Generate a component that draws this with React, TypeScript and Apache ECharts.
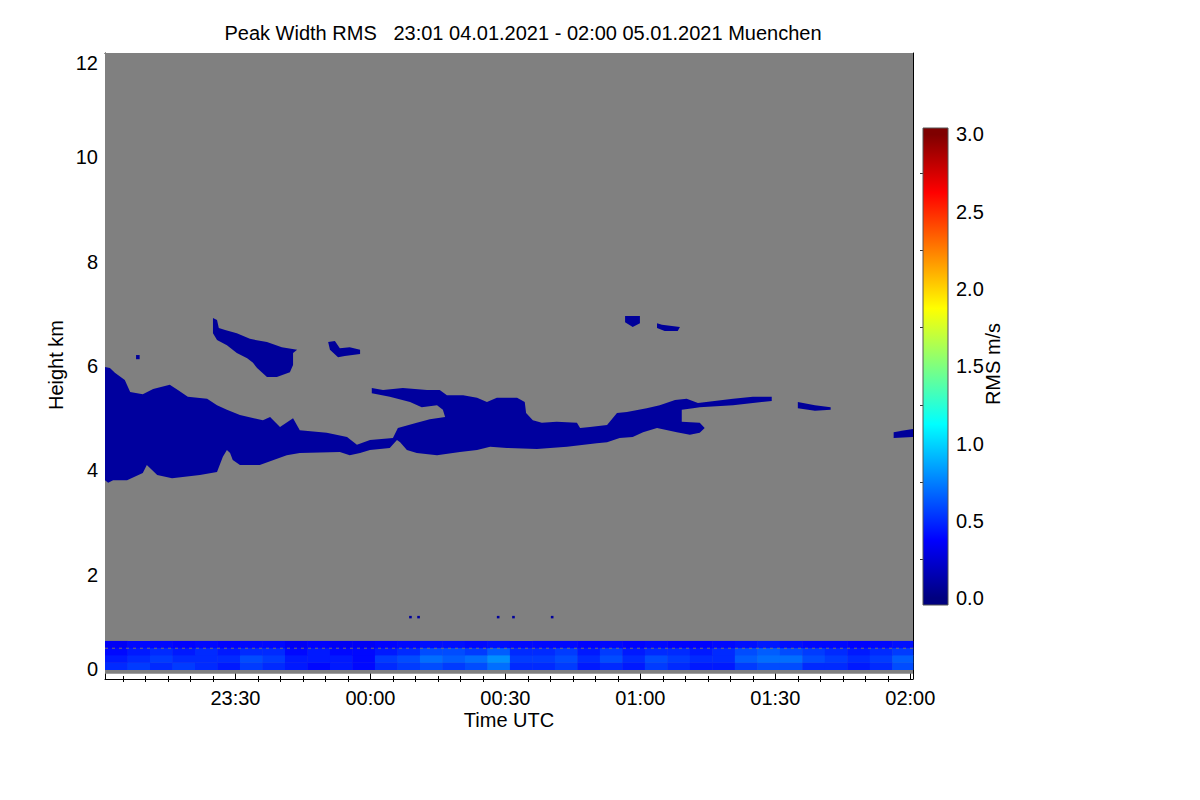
import React, { useEffect, useRef } from "react";
import * as echarts from "echarts";

// ---------- text ----------
const TITLE = "Peak Width RMS   23:01 04.01.2021 - 02:00 05.01.2021 Muenchen";
const X_NAME = "Time UTC";
const Y_NAME = "Height km";
const CB_NAME = "RMS m/s";
const FONT = "'Liberation Sans', Arial, Helvetica, sans-serif";

// ---------- axes (time in minutes after 23:00 UTC, height in km) ----------
const X_MIN = 1; // 23:01
const X_MAX = 180.6; // just past 02:00
const X_MAJOR = [30, 60, 90, 120, 150, 180];
const X_MINOR = [5, 10, 15, 20, 25, 35, 40, 45, 50, 55, 65, 70, 75, 80, 85, 95, 100, 105, 110, 115, 125, 130, 135, 140, 145, 155, 160, 165, 170, 175];
const Y_MIN = 0;
const Y_MAX = 12;
const Y_STEP = 2;

// ---------- colour bar ----------
const CB_MIN = 0;
const CB_MAX = 3;
const CB_EXTENT = [-0.045, 3.042];
const CB_LABELS = [0, 0.5, 1, 1.5, 2, 2.5, 3];
const CB_TICKS = [0.25, 0.75, 1.25, 1.75, 2.25, 2.75];
const JET = ["#00007f", "#0000ff", "#007fff", "#00ffff", "#7fff7f", "#ffff00", "#ff7f00", "#ff0000", "#7f0000"];

// ---------- no-data (grey) region ----------
const NO_DATA = [X_MIN, X_MAX, 0.1, 12];

// ---------- boundary layer (values in m/s) ----------
const BL_T = [1, 6, 11, 16, 21, 26, 31, 36, 41, 46, 51, 56, 61, 66, 71, 76, 81, 86, 91, 96, 101, 106, 111, 116, 121, 126, 131, 136, 141, 146, 151, 156, 161, 166, 171, 176, 180.6];
const BL_H = [0.18, 0.32, 0.46, 0.6, 0.73];
const BL_ROW0 = [0.5, 0.55, 0.5, 0.55, 0.5, 0.45, 0.55, 0.5, 0.45, 0.4, 0.45, 0.4, 0.5, 0.55, 0.6, 0.55, 0.6, 0.7, 0.5, 0.5, 0.55, 0.45, 0.5, 0.45, 0.55, 0.5, 0.45, 0.45, 0.55, 0.6, 0.6, 0.5, 0.5, 0.45, 0.5, 0.6];
const BL_ROW1 = [0.45, 0.5, 0.55, 0.5, 0.5, 0.5, 0.6, 0.55, 0.45, 0.45, 0.45, 0.4, 0.55, 0.6, 0.7, 0.65, 0.7, 0.8, 0.55, 0.55, 0.6, 0.5, 0.6, 0.5, 0.6, 0.55, 0.5, 0.5, 0.65, 0.7, 0.7, 0.6, 0.55, 0.5, 0.55, 0.65];
const BL_ROW2 = [0.4, 0.45, 0.5, 0.45, 0.5, 0.45, 0.5, 0.5, 0.4, 0.45, 0.4, 0.4, 0.45, 0.5, 0.6, 0.6, 0.55, 0.65, 0.5, 0.5, 0.55, 0.45, 0.55, 0.45, 0.5, 0.5, 0.45, 0.5, 0.6, 0.65, 0.6, 0.55, 0.5, 0.45, 0.5, 0.55];
const BL_ROW3 = [0.35, 0.4, 0.4, 0.38, 0.4, 0.38, 0.4, 0.4, 0.35, 0.38, 0.35, 0.35, 0.38, 0.4, 0.42, 0.42, 0.4, 0.42, 0.4, 0.4, 0.4, 0.38, 0.4, 0.38, 0.4, 0.38, 0.38, 0.4, 0.42, 0.45, 0.42, 0.4, 0.4, 0.38, 0.4, 0.42];
const BL_ROWS = [BL_ROW0, BL_ROW1, BL_ROW2, BL_ROW3];
const BL_LINE_H = 0.59;

// isolated echoes near 1.2 km: [value, t0, t1, h0, h1]
const SPECKLES = [
  [0.08, 68.6, 69.1, 1.17, 1.21],
  [0.08, 70.4, 70.9, 1.17, 1.21],
  [0.08, 88.1, 88.6, 1.17, 1.21],
  [0.08, 91.5, 92.0, 1.17, 1.21],
  [0.08, 100.1, 100.6, 1.17, 1.21],
];

// ---------- cloud echoes: outlines as [minutes after 23:00, km] ----------
const CLOUD_MAIN = [
  [1.0, 5.98], [2.1, 5.96], [3.2, 5.87], [5.4, 5.73], [6.6, 5.5], [9.4, 5.46], [11.7, 5.56], [15.4, 5.64],
  [17.2, 5.54], [19.4, 5.41], [23.7, 5.37], [25.9, 5.25], [28.1, 5.16], [31.0, 5.06], [36.1, 4.96], [37.7, 5.02],
  [39.9, 4.83], [42.8, 5.0], [44.3, 4.77], [50.3, 4.72], [54.8, 4.64], [57.0, 4.49], [59.9, 4.58], [65.0, 4.62],
  [66.1, 4.81], [70.3, 4.91], [73.2, 4.98], [76.6, 5.02], [76.1, 5.16], [74.8, 5.25], [71.4, 5.21], [68.8, 5.31],
  [64.3, 5.41], [60.3, 5.48], [60.3, 5.58], [62.8, 5.54], [67.2, 5.58], [72.6, 5.54], [75.4, 5.54], [77.0, 5.44],
  [80.6, 5.44], [83.7, 5.39], [85.9, 5.31], [88.1, 5.39], [92.6, 5.39], [94.3, 5.31], [94.6, 5.1], [96.1, 4.96],
  [98.1, 4.91], [101.4, 4.93], [105.9, 4.91], [106.6, 4.81], [108.8, 4.83], [112.6, 4.87], [114.8, 5.1], [117.0, 5.12],
  [121.4, 5.19], [124.3, 5.25], [127.7, 5.35], [130.3, 5.37], [132.8, 5.29], [140.6, 5.37], [145.0, 5.41], [149.2, 5.41],
  [149.2, 5.33], [140.6, 5.25], [133.2, 5.21], [131.7, 5.19], [129.2, 5.16], [129.2, 4.93], [133.2, 4.91], [134.3, 4.81],
  [133.2, 4.72], [131.0, 4.68], [128.1, 4.73], [123.7, 4.81], [120.6, 4.73], [118.3, 4.64], [115.4, 4.62], [112.6, 4.54],
  [110.3, 4.52], [103.7, 4.45], [97.0, 4.41], [90.3, 4.43], [86.6, 4.45], [83.7, 4.39], [79.9, 4.35], [74.8, 4.29],
  [70.3, 4.33], [68.1, 4.39], [66.6, 4.54], [65.9, 4.58], [64.3, 4.43], [59.9, 4.39], [57.7, 4.33], [55.4, 4.29],
  [53.2, 4.35], [44.3, 4.33], [41.4, 4.29], [35.4, 4.1], [31.0, 4.1], [29.4, 4.2], [28.8, 4.33], [28.1, 4.39],
  [27.2, 4.26], [25.9, 3.97], [22.1, 3.91], [15.9, 3.85], [12.6, 3.91], [10.3, 4.1], [9.4, 3.95], [5.9, 3.81],
  [2.8, 3.81], [1.7, 3.76], [1.0, 3.81],
];
const CLOUD_UPPER = [
  [25.0, 6.92], [25.9, 6.88], [26.3, 6.73], [27.7, 6.69], [30.3, 6.63], [33.2, 6.52], [37.0, 6.46], [40.3, 6.36],
  [43.7, 6.31], [42.8, 6.25], [42.8, 6.02], [42.1, 5.88], [39.2, 5.79], [37.0, 5.79], [34.8, 5.96], [33.9, 6.06],
  [32.6, 6.15], [30.3, 6.25], [28.1, 6.4], [25.9, 6.5], [25.0, 6.63], [25.0, 6.82],
];
const CLOUD_2352 = [[50.6, 6.46], [52.1, 6.48], [53.2, 6.34], [55.4, 6.36], [57.7, 6.31], [57.7, 6.23], [54.3, 6.19], [52.8, 6.17], [51.0, 6.31]];
const CLOUD_2308 = [[7.9, 6.21], [8.7, 6.21], [8.7, 6.13], [7.9, 6.13]];
const CLOUD_0100 = [[116.6, 6.96], [119.9, 6.96], [119.9, 6.82], [118.3, 6.75], [116.6, 6.84]];
const CLOUD_0106 = [[123.7, 6.82], [124.8, 6.79], [128.8, 6.75], [128.3, 6.67], [125.4, 6.67], [123.7, 6.73]];
const CLOUD_0143 = [[155.0, 5.31], [158.8, 5.25], [162.3, 5.21], [162.3, 5.16], [158.8, 5.14], [155.0, 5.19]];
const CLOUD_0158 = [[176.3, 4.73], [178.8, 4.77], [180.6, 4.79], [180.6, 4.64], [176.3, 4.62]];
const CLOUDS = [CLOUD_MAIN, CLOUD_UPPER, CLOUD_2352, CLOUD_2308, CLOUD_0100, CLOUD_0106, CLOUD_0143, CLOUD_0158];
const CLOUD_VALUES = [0.09, 0.08, 0.08, 0.08, 0.08, 0.08, 0.08, 0.08];

function fmtTime(v: number) {
  const total = 23 * 60 + Math.round(v);
  const h = Math.floor(total / 60) % 24;
  const m = total % 60;
  return String(h).padStart(2, "0") + ":" + String(m).padStart(2, "0");
}

export default function App() {
  const ref = useRef<HTMLDivElement>(null);

  useEffect(() => {
    document.body.style.margin = "0";
    if (!ref.current) return;
    const chart = echarts.init(ref.current, undefined, { renderer: "svg" });

    const cells: number[][] = [];
    for (let r = 0; r < BL_ROWS.length; r++) {
      for (let c = 0; c < BL_ROWS[r].length; c++) {
        cells.push([BL_ROWS[r][c], BL_T[c], BL_T[c + 1], BL_H[r], BL_H[r + 1]]);
      }
    }
    SPECKLES.forEach((s) => cells.push(s));

    const cbOffset = (v: number) => (v - CB_EXTENT[0]) / (CB_EXTENT[1] - CB_EXTENT[0]);
    const stops = [{ offset: 0, color: JET[0] }];
    JET.forEach((c, i) => stops.push({ offset: cbOffset(CB_MIN + ((CB_MAX - CB_MIN) * i) / (JET.length - 1)), color: c }));
    stops.push({ offset: 1, color: JET[JET.length - 1] });

    const axisText = { fontFamily: FONT, fontSize: 20, color: "#000" };
    const line = { show: true, lineStyle: { color: "#000", width: 1 } };

    const mkX = (position: string, values: number[], len: number, labels: boolean, showLine: boolean) => ({
      type: "value",
      gridIndex: 0,
      position,
      min: X_MIN,
      max: X_MAX,
      axisLine: showLine ? { ...line, onZero: false } : { show: false },
      axisTick: { show: true, inside: true, length: len, customValues: values, lineStyle: { color: "#000", width: 1 } },
      axisLabel: labels
        ? { show: true, customValues: values, formatter: (v: number) => fmtTime(v), margin: 9, ...axisText }
        : { show: false },
      splitLine: { show: false },
    });
    const mkY = (position: string, labels: boolean) => ({
      type: "value",
      gridIndex: 0,
      position,
      min: Y_MIN,
      max: Y_MAX,
      interval: Y_STEP,
      axisLine: { ...line, onZero: false },
      axisTick: { show: true, inside: true, length: 6, lineStyle: { color: "#000", width: 1 } },
      minorTick: { show: true, splitNumber: 4, length: 3, lineStyle: { color: "#000", width: 1 } },
      axisLabel: labels
        ? { show: true, margin: 7, verticalAlignMinLabel: "bottom", verticalAlignMaxLabel: "top", ...axisText }
        : { show: false },
      splitLine: { show: false },
      minorSplitLine: { show: false },
    });

    const option: any = {
      animation: false,
      backgroundColor: "#fff",
      textStyle: { fontFamily: FONT },
      grid: [
        { left: 105, top: 53, width: 808, height: 626, containLabel: false },
        { left: 923, top: 128, width: 25, height: 477, containLabel: false },
      ],
      xAxis: [
        mkX("bottom", X_MAJOR, 6, true, true),
        mkX("top", X_MAJOR, 6, false, true),
        mkX("bottom", X_MINOR, 3, false, false),
        mkX("top", X_MINOR, 3, false, false),
        { type: "value", gridIndex: 1, min: 0, max: 1, show: false },
      ],
      yAxis: [
        mkY("left", true),
        mkY("right", false),
        {
          type: "value",
          gridIndex: 1,
          position: "right",
          min: CB_EXTENT[0],
          max: CB_EXTENT[1],
          axisLine: { show: false },
          axisTick: { show: true, inside: true, length: 3, customValues: CB_TICKS, lineStyle: { color: "#333", width: 1 } },
          axisLabel: { show: true, customValues: CB_LABELS, formatter: (v: number) => v.toFixed(1), margin: 8, ...axisText },
          splitLine: { show: false },
        },
      ],
      visualMap: [
        {
          type: "continuous",
          show: false,
          min: CB_MIN,
          max: CB_MAX,
          dimension: 0,
          seriesIndex: [1, 2],
          inRange: { color: JET },
        },
      ],
      series: [
        {
          type: "custom",
          name: "no data",
          xAxisIndex: 0,
          yAxisIndex: 0,
          silent: true,
          data: [NO_DATA],
          renderItem: (p: any, api: any) => {
            const a = api.coord([api.value(0), api.value(3)]);
            const b = api.coord([api.value(1), api.value(2)]);
            return { type: "rect", shape: { x: a[0], y: a[1], width: b[0] - a[0], height: b[1] - a[1] }, style: { fill: "#808080" } };
          },
        },
        {
          type: "custom",
          name: "boundary layer",
          xAxisIndex: 0,
          yAxisIndex: 0,
          silent: true,
          data: cells,
          renderItem: (p: any, api: any) => {
            const a = api.coord([api.value(1), api.value(4)]);
            const b = api.coord([api.value(2), api.value(3)]);
            return {
              type: "rect",
              shape: { x: a[0], y: a[1], width: b[0] - a[0] + 0.4, height: b[1] - a[1] + 0.4 },
              style: { fill: api.visual("color") },
            };
          },
        },
        {
          type: "custom",
          name: "clouds",
          xAxisIndex: 0,
          yAxisIndex: 0,
          silent: true,
          data: CLOUD_VALUES.map((v, i) => [v, i]),
          renderItem: (p: any, api: any) => {
            const idx = api.value(1);
            const pts = CLOUDS[idx].map((q) => api.coord(q));
            return { type: "polygon", shape: { points: pts }, style: { fill: api.visual("color") } };
          },
        },
        {
          type: "line",
          name: "level",
          xAxisIndex: 0,
          yAxisIndex: 0,
          silent: true,
          symbol: "none",
          data: [
            [X_MIN, BL_LINE_H],
            [X_MAX, BL_LINE_H],
          ],
          lineStyle: { color: "#8a8450", width: 1, type: [3, 4], opacity: 0.8 },
        },
        {
          type: "custom",
          name: "colour bar",
          xAxisIndex: 4,
          yAxisIndex: 2,
          silent: true,
          data: [[CB_EXTENT[0], CB_EXTENT[1]]],
          renderItem: (p: any, api: any) => {
            const a = api.coord([0, api.value(1)]);
            const b = api.coord([1, api.value(0)]);
            return {
              type: "rect",
              shape: { x: a[0], y: a[1], width: b[0] - a[0], height: b[1] - a[1] },
              style: { fill: new echarts.graphic.LinearGradient(0, 1, 0, 0, stops), stroke: "#555", lineWidth: 1 },
            };
          },
        },
      ],
      graphic: [
        {
          type: "text",
          x: 523,
          y: 33,
          style: { text: TITLE, fontFamily: FONT, fontSize: 20, fill: "#000", textAlign: "center", textVerticalAlign: "middle", align: "center", verticalAlign: "middle" },
        },
        {
          type: "text",
          x: 509,
          y: 720,
          style: { text: X_NAME, fontFamily: FONT, fontSize: 20, fill: "#000", textAlign: "center", textVerticalAlign: "middle", align: "center", verticalAlign: "middle" },
        },
        {
          type: "text",
          x: 56,
          y: 365,
          rotation: Math.PI / 2,
          style: { text: Y_NAME, fontFamily: FONT, fontSize: 20, fill: "#000", textAlign: "center", textVerticalAlign: "middle", align: "center", verticalAlign: "middle" },
        },
        {
          type: "text",
          x: 993,
          y: 364,
          rotation: Math.PI / 2,
          style: { text: CB_NAME, fontFamily: FONT, fontSize: 20, fill: "#000", textAlign: "center", textVerticalAlign: "middle", align: "center", verticalAlign: "middle" },
        },
      ],
    };

    chart.setOption(option);
    return () => chart.dispose();
  }, []);

  return <div ref={ref} style={{ width: 1200, height: 800 }} />;
}
